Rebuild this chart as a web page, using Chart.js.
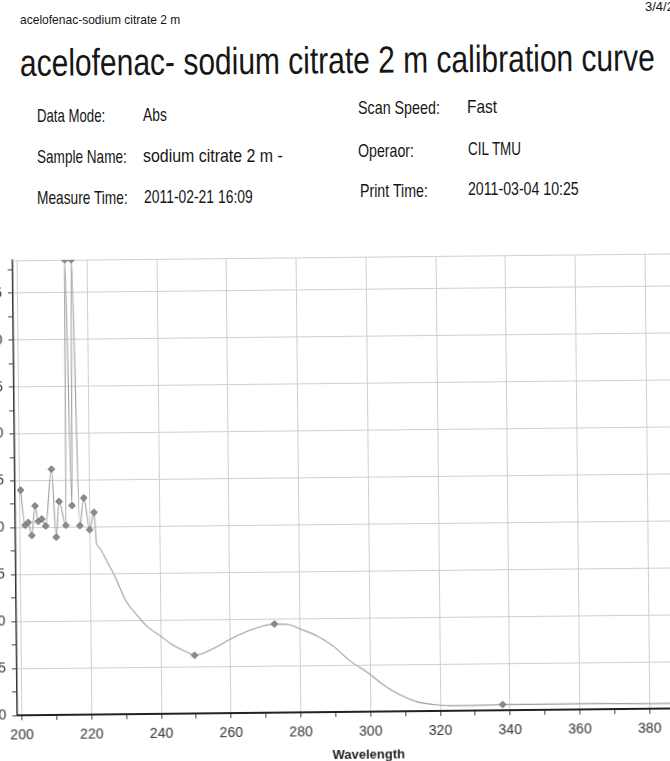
<!DOCTYPE html>
<html><head><meta charset="utf-8">
<script src="https://cdn.jsdelivr.net/npm/chart.js@4.4.1/dist/chart.umd.min.js"></script>
<style>
html,body{margin:0;padding:0;background:#fff;}
body{width:670px;height:761px;overflow:hidden;position:relative;font-family:"Liberation Sans",Arial,sans-serif;color:#161616;}
.t{position:absolute;white-space:nowrap;transform-origin:0 50%;line-height:1;}
#plotwrap{position:absolute;left:0;top:0;width:670px;height:761px;transform-origin:335px 490px;transform:rotate(-0.6deg);}
#c{position:absolute;left:-45px;top:247px;}
</style></head>
<body>
<div class="t" data-w="160" style="left:20px;top:13px;font-size:13px;">acelofenac-sodium citrate 2 m</div>
<div class="t" style="left:645px;top:0px;font-size:13px;">3/4/2011</div>
<div class="t" data-w="635" data-r="-0.5" style="left:20px;top:44px;font-size:38px;">acelofenac- sodium citrate 2 m calibration curve</div>

<div class="t" data-w="68" style="left:37px;top:106px;font-size:19px;">Data Mode:</div>
<div class="t" data-w="24" style="left:143px;top:105px;font-size:19px;">Abs</div>
<div class="t" data-w="82" style="left:358px;top:98px;font-size:19px;">Scan Speed:</div>
<div class="t" data-w="30" style="left:467px;top:97px;font-size:19px;">Fast</div>

<div class="t" data-w="90" style="left:37px;top:147px;font-size:19px;">Sample Name:</div>
<div class="t" data-w="140" style="left:143px;top:146px;font-size:19px;">sodium citrate 2 m -</div>
<div class="t" data-w="56" style="left:358px;top:141px;font-size:19px;">Operaor:</div>
<div class="t" data-w="53" style="left:468px;top:139px;font-size:19px;">CIL TMU</div>

<div class="t" data-w="91" style="left:37px;top:188px;font-size:19px;">Measure Time:</div>
<div class="t" data-w="109" style="left:144px;top:187px;font-size:19px;">2011-02-21 16:09</div>
<div class="t" data-w="68" style="left:360px;top:181px;font-size:19px;">Print Time:</div>
<div class="t" data-w="111" style="left:468px;top:179px;font-size:19px;">2011-03-04 10:25</div>

<div id="plotwrap"><canvas id="c" width="767" height="518"></canvas></div>

<script>
// ---- data ----
const wavelength = [200.3,201.5,202.4,203.4,204.4,205.3,206.3,207.4,209.2,210.4,211.3,213.2,213.6,215.0,215.5,217.2,218.4,220.0,221.3,
  221.9,222.7,224.1,225.5,226.5,228.4,230.3,233.2,236.0,239.8,243.6,247.5,249.7,255.1,259.9,264.6,269.4,272.7,277.0,280.0,284.7,
  289.4,294.2,299.9,303.7,308.5,313.3,318.0,322.8,327.6,337.9,350,365,380,400];
const absorbance = [2.40,2.025,2.055,1.915,2.23,2.065,2.09,2.015,2.62,1.895,2.275,2.02,4.85,2.23,4.85,2.015,2.31,1.97,2.155,
  1.83,1.78,1.69,1.585,1.515,1.355,1.20,1.06,0.94,0.835,0.73,0.655,0.62,0.69,0.785,0.865,0.925,0.945,0.935,0.89,0.815,
  0.705,0.545,0.40,0.285,0.175,0.10,0.07,0.055,0.055,0.06,0.06,0.06,0.055,0.055];
const peakWavelengths = [200.3,201.5,202.4,203.4,204.4,205.3,206.3,207.4,209.2,210.4,211.3,213.2,213.6,215.0,215.5,217.2,218.4,220.0,221.3,249.7,272.7,337.9];
const xTicks = [200,210,220,230,240,250,260,270,280,290,300,310,320,330,340,350,360,370,380,390,400];
const yTicks = [0,0.25,0.5,0.75,1,1.25,1.5,1.75,2,2.25,2.5,2.75,3,3.25,3.5,3.75,4,4.25,4.5,4.75];
const xTitle = 'Wavelength';

// ---- fit header texts ----
document.querySelectorAll('.t[data-w]').forEach(el => {
  const k = parseFloat(el.dataset.w) / el.offsetWidth;
  const r = el.dataset.r ? parseFloat(el.dataset.r) : 0;
  el.style.transform = 'rotate(' + r + 'deg) scaleX(' + k + ')';
});

const peakSet = new Set(peakWavelengths);
const tickFont = {family: '"Liberation Sans Narrow","Liberation Sans",Arial,sans-serif', size: 14};

const topBorder = {
  id: 'topBorder',
  beforeDatasetsDraw(chart) {
    const {ctx, chartArea} = chart;
    ctx.save();
    ctx.strokeStyle = '#cfcfcf';
    ctx.lineWidth = 1;
    ctx.beginPath();
    ctx.moveTo(chartArea.left, chartArea.top + 0.5);
    ctx.lineTo(chartArea.right, chartArea.top + 0.5);
    ctx.stroke();
    ctx.restore();
  }
};

const noPad = s => { s.paddingLeft = 0; s.paddingRight = 0; s.paddingTop = 0; s.paddingBottom = 0; };

new Chart(document.getElementById('c'), {
  type: 'line',
  data: {
    datasets: [{
      data: wavelength.map((w, i) => ({x: w, y: absorbance[i]})),
      borderColor: '#9e9e9e',
      borderWidth: 1.1,
      cubicInterpolationMode: 'monotone',
      pointStyle: 'rectRot',
      pointRadius: c => peakSet.has(wavelength[c.dataIndex]) ? 3.3 : 0,
      pointBackgroundColor: '#8c8c8c',
      pointBorderColor: '#6a6a6a',
      pointBorderWidth: 1,
      clip: 0,
      fill: false
    }]
  },
  options: {
    responsive: false,
    animation: false,
    devicePixelRatio: 1,
    layout: {padding: {top: 10, left: 0, right: 0, bottom: 0}},
    plugins: {legend: {display: false}, tooltip: {enabled: false}},
    scales: {
      x: {
        type: 'linear', min: 198.7, max: 400,
        afterBuildTicks: s => { s.ticks = xTicks.map(v => ({value: v})); },
        afterFit: s => { s.height = 53; noPad(s); },
        ticks: {autoSkip: false, maxRotation: 0, padding: 7, color: '#333', font: tickFont,
          callback: v => (v % 20 === 0 ? String(v) : '')},
        grid: {color: c => (c.tick && c.tick.value % 20 === 0 ? '#cfcfcf' : 'rgba(0,0,0,0)'),
          lineWidth: 1, tickColor: '#444', tickLength: 5},
        border: {color: '#222', width: 2},
        title: {display: true, text: xTitle, color: '#222', padding: {top: 0, bottom: 2},
          font: {family: '"Liberation Sans Narrow","Liberation Sans",Arial,sans-serif', size: 13, weight: 'bold'}}
      },
      y: {
        min: 0, max: 4.85,
        afterBuildTicks: s => { s.ticks = yTicks.map(v => ({value: v})); },
        afterFit: s => { s.width = 60; noPad(s); },
        ticks: {autoSkip: false, padding: 6, color: '#333', font: tickFont,
          callback: v => (Math.abs(v * 2 - Math.round(v * 2)) < 1e-6 ? v.toFixed(1) : '')},
        grid: {color: c => (c.tick && Math.abs(c.tick.value * 2 - Math.round(c.tick.value * 2)) < 1e-6 ? '#cfcfcf' : 'rgba(0,0,0,0)'),
          lineWidth: 1, tickColor: '#444', tickLength: 5},
        border: {color: '#333', width: 1.5}
      }
    }
  },
  plugins: [topBorder]
});
</script>
</body></html>
